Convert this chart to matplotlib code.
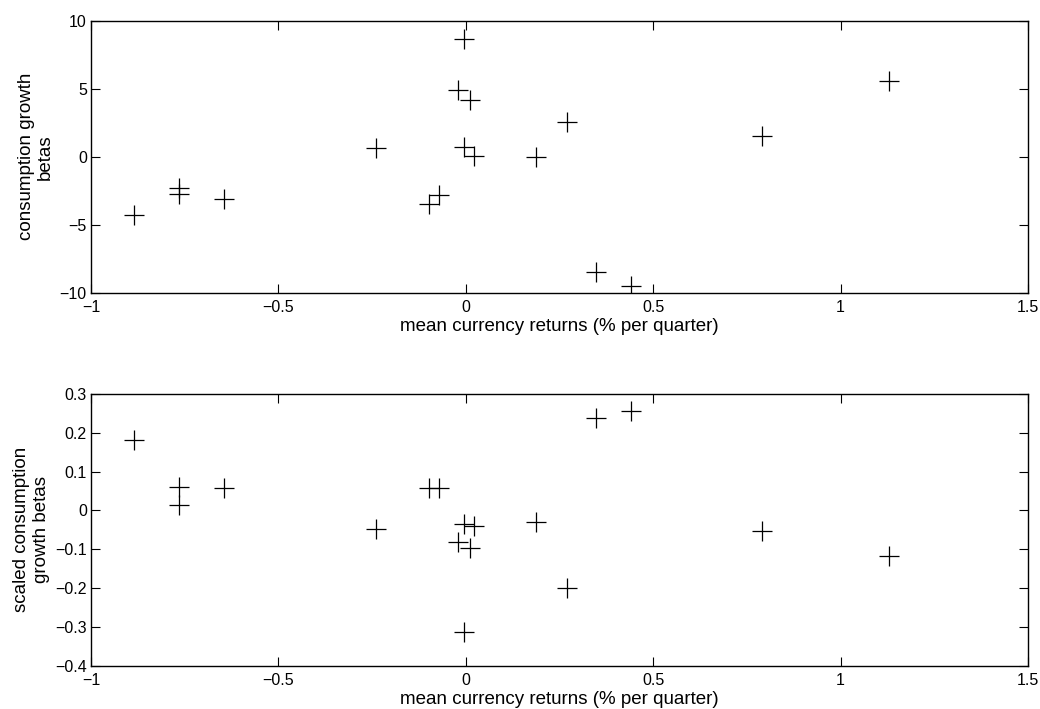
import numpy as np
import matplotlib.pyplot as plt

plt.rcParams['font.family'] = ['Liberation Sans', 'DejaVu Sans']

# mean currency returns, % per quarter
mean_ret = [-0.884, -0.764, -0.764, -0.646, -0.239, -0.005, -0.022, 0.012, -0.004,
            0.021, 0.188, -0.098, -0.072, 0.270, 0.791, 1.128, 0.348, 0.440]

# consumption growth betas
betas = [-4.29, -2.28, -2.75, -3.14, 0.61, 8.63, 4.90, 4.19, 0.74,
         0.07, -0.02, -3.46, -2.84, 2.55, 1.52, 5.59, -8.48, -9.51]

# scaled consumption growth betas
scaled_betas = [0.181, 0.060, 0.013, 0.059, -0.049, -0.314, -0.082, -0.098, -0.035,
                -0.040, -0.029, 0.059, 0.059, -0.201, -0.054, -0.118, 0.239, 0.257]

x_ticks = [-1, -0.5, 0, 0.5, 1, 1.5]
x_ticklabels = ['\u22121', '\u22120.5', '0', '0.5', '1', '1.5']
top_yticks = [-10, -5, 0, 5, 10]
top_yticklabels = ['\u221210', '\u22125', '0', '5', '10']
bot_yticks = [-0.4, -0.3, -0.2, -0.1, 0, 0.1, 0.2, 0.3]
bot_yticklabels = ['\u22120.4', '\u22120.3', '\u22120.2', '\u22120.1', '0', '0.1', '0.2', '0.3']

fig = plt.figure(figsize=(10.4, 7.09), dpi=100)
ax1 = fig.add_axes([0.0875, 0.5872, 0.901, 0.3836])
ax2 = fig.add_axes([0.0875, 0.0611, 0.901, 0.3832])


def style(ax, yticks, yticklabels, ylim, ylabel):
    ax.set_xlim(-1, 1.5)
    ax.set_ylim(*ylim)
    ax.set_xticks(x_ticks)
    ax.set_xticklabels(x_ticklabels)
    ax.set_yticks(yticks)
    ax.set_yticklabels(yticklabels)
    ax.tick_params(direction='in', length=6.5, width=0.8, top=True, right=True,
                   labelsize=11.5)
    ax.tick_params(axis='x', pad=5)
    ax.tick_params(axis='y', pad=3)
    for s in ax.spines.values():
        s.set_linewidth(1.0)
    ax.set_xlabel('mean currency returns (% per quarter)', fontsize=13.5, labelpad=2.5)
    ax.set_ylabel(ylabel, fontsize=13.5, labelpad=4)


ax1.plot(mean_ret, betas, '+', color='black', markersize=14, markeredgewidth=0.9)
style(ax1, top_yticks, top_yticklabels, (-10, 10), 'consumption growth\nbetas')

ax2.plot(mean_ret, scaled_betas, '+', color='black', markersize=14, markeredgewidth=0.9)
style(ax2, bot_yticks, bot_yticklabels, (-0.4, 0.3), 'scaled consumption\ngrowth betas')

fig.savefig('out.png', dpi=100)
